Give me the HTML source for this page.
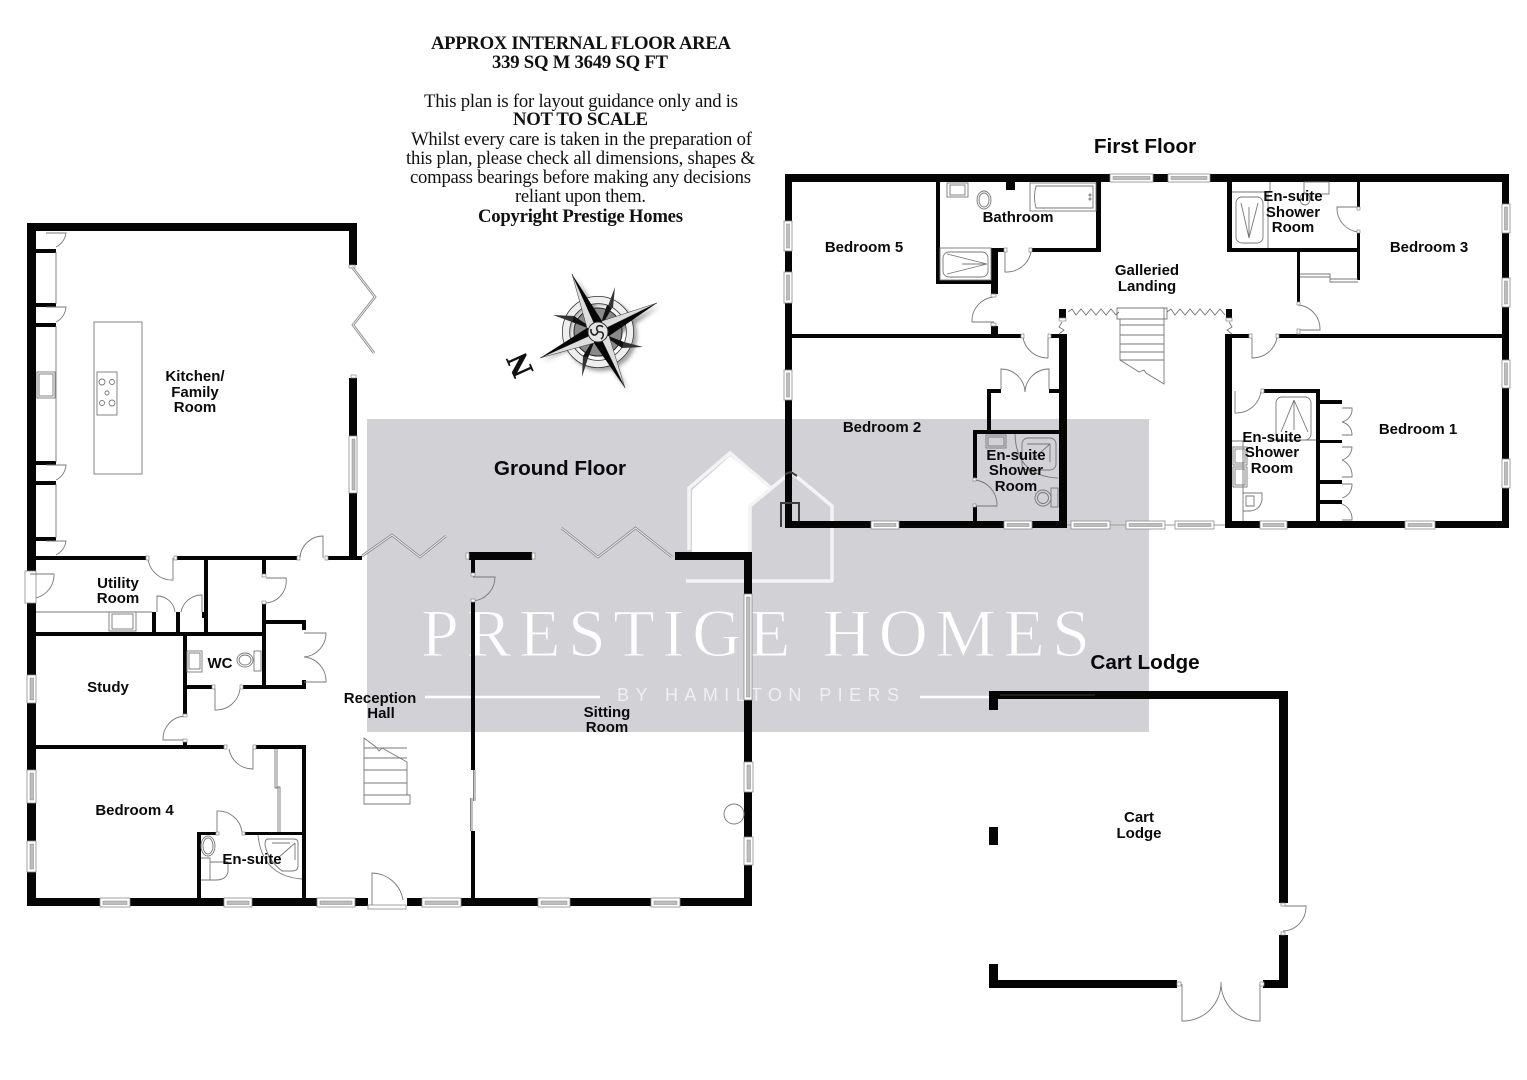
<!DOCTYPE html>
<html><head><meta charset="utf-8"><title>Floor plan</title>
<style>
html,body{margin:0;padding:0;background:#fff}
svg{display:block}
.l{font:bold 15px "Liberation Sans",sans-serif;fill:#0a0a0a;text-anchor:middle}
.h{font:bold 20.7px "Liberation Sans",sans-serif;fill:#0a0a0a;text-anchor:middle}
.s{font:18.7px "Liberation Serif",serif;fill:#111;text-anchor:middle}
.b{font-weight:bold}
.d{fill:none;stroke:#777;stroke-width:.9}
.f{fill:none;stroke:#999;stroke-width:.9}
.fd{fill:none;stroke:#888;stroke-width:2.6;stroke-linejoin:miter}
.fi{fill:none;stroke:#eee;stroke-width:1;stroke-linejoin:miter}
.w{fill:#fff;stroke:#8a8a8a;stroke-width:.8}
.wi{fill:#bdbdbd;stroke:#888;stroke-width:.5}
</style></head><body>
<svg width="1527" height="1080" viewBox="0 0 1527 1080" xmlns="http://www.w3.org/2000/svg">
<defs><filter id="bl" x="-30%" y="-30%" width="160%" height="160%"><feGaussianBlur stdDeviation="2.4"/></filter></defs>
<rect width="1527" height="1080" fill="#fff"/>

<!-- watermark -->
<rect x="367" y="419" width="782" height="313" fill="#d2d2d6"/>
<polygon points="730,456 771,488 750,506 750,552 692,552 692,490" fill="#fff"/>
<path d="M689,550V488L730,453L771,488M750,552V506L791,472L832,506V581M686,581H833" fill="none" stroke="#f4f4f5" stroke-width="3.5"/>
<text x="421" y="656" font-family="Liberation Serif,serif" font-size="68" fill="#fff" textLength="669" stroke="#d2d2d6" stroke-width="1.1">PRESTIGE HOMES</text>
<text x="617" y="701" font-family="Liberation Sans,sans-serif" font-size="18" fill="#f0f0f2" textLength="282">BY HAMILTON PIERS</text>
<path d="M425,697H600M920,697H1095" stroke="#fff" stroke-width="2.4"/>

<!-- heading text -->
<text class="s b" x="581" y="49" textLength="300">APPROX INTERNAL FLOOR AREA</text>
<text class="s b" x="580" y="68" textLength="176">339 SQ M 3649 SQ FT</text>
<text class="s" x="581" y="107" textLength="314">This plan is for layout guidance only and is</text>
<text class="s b" x="580.5" y="125" textLength="135">NOT TO SCALE</text>
<text class="s" x="581.5" y="145" textLength="341">Whilst every care is taken in the preparation of</text>
<text class="s" x="580.5" y="164" textLength="349">this plan, please check all dimensions, shapes &amp;</text>
<text class="s" x="580.5" y="183" textLength="341">compass bearings before making any decisions</text>
<text class="s" x="580.5" y="202" textLength="131">reliant upon them.</text>
<text class="s b" x="580.5" y="222" textLength="205">Copyright Prestige Homes</text>

<!-- compass -->
<g filter="url(#bl)" fill="#777" transform="translate(3,3)">
<polygon points="598,332 572,274 602,321"/><polygon points="598,332 657,303 609,336"/><polygon points="598,332 625,388 594,343"/><polygon points="598,332 540,358 587,328"/>
<circle cx="598" cy="332" r="33" fill="none" stroke="#888" stroke-width="5"/>
</g>
<circle cx="598" cy="332" r="32" fill="none" stroke="#333" stroke-width="8"/>
<circle cx="598" cy="332" r="32" fill="none" stroke="#eee" stroke-width="6.5"/>
<circle cx="598" cy="332" r="24" fill="#8a8a8a" stroke="#222"/>
<g fill="#333">
<polygon points="608,306 615,287 613,308"/><polygon points="624,342 643,347 622,348"/><polygon points="588,358 582,377 583,356"/><polygon points="572,322 553,315 574,316"/>
</g>
<g fill="#111">
<polygon points="598,332 607,305 612,308"/><polygon points="598,332 624,342 622,348"/><polygon points="598,332 588,358 583,356"/><polygon points="598,332 572,322 574,316"/>
</g>
<g fill="#ddd" stroke="#333" stroke-width=".5">
<polygon points="598,332 572,274 587,328"/><polygon points="598,332 657,303 602,321"/><polygon points="598,332 625,388 609,336"/><polygon points="598,332 540,358 594,343"/>
</g>
<g fill="#060606">
<polygon points="598,332 572,274 602,321"/><polygon points="598,332 657,303 609,336"/><polygon points="598,332 625,388 594,343"/><polygon points="598,332 540,358 587,328"/>
</g>
<circle cx="598" cy="332" r="10" fill="#e6e6e6" stroke="#333"/>
<path d="M598,332c-4,-6 2,-8 5,-5M598,332c7,-1 6,5 3,7M598,332c-3,6 -8,2 -7,-3" fill="none" stroke="#222" stroke-width="1.6"/>
<text transform="translate(520,365) rotate(-114)" x="0" y="10" font-family="Liberation Serif,serif" font-weight="bold" font-size="31" text-anchor="middle" fill="#111" stroke="#111" stroke-width=".5">N</text>

<!-- walls -->
<path fill="#050505" d="
M27,223H357V231H27Z M27,223H36V571H27Z M27,603H36V906H27Z M349,223H357V265H349Z M349,378H357V436H349Z M349,493H357V560H349Z
M36,249H56V253H36Z M36,303H56V307H36Z M36,323H56V327H36Z M36,461H56V465H36Z M36,481H56V485H36Z M36,537H56V541H36Z
M36,556H146V560H36Z M177,556H297V560H177Z M328,556H362V560H328Z
M36,632H264V636H36Z M152,612H156V632H152Z M176,612H180V632H176Z M202,612H205V618H202Z M204,560H208V632H204Z
M262,560H266V574H262Z M262,604H266V689H262Z M262,620H306V624H262Z M302,620H306V630H302Z M262,685H306V689H262Z M302,680H306V689H302Z
M183,636H187V714H183Z M187,685H212V689H187Z M243,685H306V689H243Z M183,742H187V746H183Z
M36,745H224V749H36Z M256,745H306V749H256Z M302,745H306V906H302Z M197,832H216V835H197Z M245,832H306V835H245Z M197,832H201V898H197Z
M27,898H100V906H27Z M130,898H224V906H130Z M252,898H317V906H252Z M355,898H368V906H355Z M407,898H422V906H407Z M461,898H538V906H461Z M570,898H651V906H570Z M680,898H752V906H680Z
M469,552H532V560H469Z M471,560H475V573H471Z M471,602H475V770H471Z M471,831H475V898H471Z
M675,552H752V560H675Z M744,552H752V594H744Z M744,700H752V762H744Z M744,792H752V837H744Z M744,865H752V906H744Z

M785,174H1110V182H785Z M1153,174H1168V182H1153Z M1210,174H1509V182H1210Z
M785,174H792V221H785Z M785,251H792V272H785Z M785,303H792V370H785Z M785,400H792V528H785Z
M1502,174H1509V204H1502Z M1502,233H1509V278H1502Z M1502,307H1509V360H1502Z M1502,388H1509V459H1502Z M1502,488H1509V528H1502Z
M785,521H871V528H785Z M899,521H1004V528H899Z M1032,521H1067V528H1032Z
M1225,521H1260V528H1225Z M1287,521H1405V528H1287Z M1435,521H1509V528H1435Z
M792,334H1021V338H792Z M1051,334H1067V338H1051Z M1225,334H1249V338H1225Z M1279,334H1502V338H1279Z
M1059,334H1067V528H1059Z M1225,334H1232V528H1225Z
M936,182H940V284H936Z M936,280H998V284H936Z M991,248H998V294H991Z M991,326H998V335H991Z M991,248H1004V252H991Z M1032,248H1101V252H1032Z M1096,182H1101V252H1096Z M1006,182H1015V190H1006Z
M1227,182H1232V252H1227Z M1227,248H1360V252H1227Z M1357,182H1360V207H1357Z M1357,232H1360V280H1357Z M1297,252H1300V302H1297Z
M987,389H1001V393H987Z M1049,389H1059V393H1049Z M987,389H991V430H987Z
M973,430H1059V434H973Z M973,430H977V478H973Z M973,506H977V521H973Z
M1264,389H1319V393H1264Z M1316,389H1320V521H1316Z
M1320,400H1342V404H1320Z M1320,440H1342V443H1320Z M1320,480H1342V484H1320Z M1320,500H1342V504H1320Z
M1059,309H1066V318H1059Z M1226,309H1232V318H1226Z

M989,691H1288V699H989Z M989,691H998V710H989Z M1279,691H1288V903H1279Z M1279,935H1288V988H1279Z M989,980H1177V988H989Z M1263,980H1288V988H1263Z M989,964H998V988H989Z M989,827H998V845H989Z"/>
<path d="M1000,695H1095" stroke="#3a3a3a" stroke-width="1"/>
<path d="M781,527V503H799V521M785,474L791,472 797,476" fill="none" stroke="#3d3d3d" stroke-width="2"/>

<!-- windows -->
<g class="win">
<rect class="w" x="100" y="898" width="30" height="9"/><rect class="wi" x="103" y="901" width="24" height="3.5"/>
<rect class="w" x="224" y="898" width="28" height="9"/><rect class="wi" x="227" y="901" width="22" height="3.5"/>
<rect class="w" x="317" y="898" width="38" height="9"/><rect class="wi" x="320" y="901" width="32" height="3.5"/>
<rect class="w" x="422" y="898" width="39" height="9"/><rect class="wi" x="425" y="901" width="33" height="3.5"/>
<rect class="w" x="538" y="898" width="32" height="9"/><rect class="wi" x="541" y="901" width="26" height="3.5"/>
<rect class="w" x="651" y="898" width="29" height="9"/><rect class="wi" x="654" y="901" width="23" height="3.5"/>
<rect class="w" x="27" y="675" width="9" height="28"/><rect class="wi" x="30" y="678" width="3.5" height="22"/>
<rect class="w" x="27" y="770" width="9" height="33"/><rect class="wi" x="30" y="773" width="3.5" height="27"/>
<rect class="w" x="27" y="841" width="9" height="31"/><rect class="wi" x="30" y="844" width="3.5" height="25"/>
<rect class="w" x="349" y="436" width="8" height="57"/><rect class="wi" x="352" y="439" width="3" height="51"/>
<rect class="w" x="744" y="594" width="8" height="106"/><rect class="wi" x="746.5" y="597" width="3.5" height="100"/>
<rect class="w" x="744" y="762" width="9" height="30"/><rect class="wi" x="747" y="765" width="3.5" height="24"/>
<rect class="w" x="744" y="837" width="9" height="28"/><rect class="wi" x="747" y="840" width="3.5" height="22"/>
<rect class="w" x="1110" y="174" width="43" height="8"/><rect class="wi" x="1113" y="176.5" width="37" height="3"/>
<rect class="w" x="1168" y="174" width="42" height="8"/><rect class="wi" x="1171" y="176.5" width="36" height="3"/>
<rect class="w" x="784" y="221" width="8" height="30"/><rect class="wi" x="786.5" y="224" width="3" height="24"/>
<rect class="w" x="784" y="272" width="8" height="31"/><rect class="wi" x="786.5" y="275" width="3" height="25"/>
<rect class="w" x="784" y="370" width="8" height="30"/><rect class="wi" x="786.5" y="373" width="3" height="24"/>
<rect class="w" x="1502" y="204" width="8" height="29"/><rect class="wi" x="1504.5" y="207" width="3" height="23"/>
<rect class="w" x="1502" y="278" width="8" height="29"/><rect class="wi" x="1504.5" y="281" width="3" height="23"/>
<rect class="w" x="1502" y="360" width="8" height="28"/><rect class="wi" x="1504.5" y="363" width="3" height="22"/>
<rect class="w" x="1502" y="459" width="8" height="29"/><rect class="wi" x="1504.5" y="462" width="3" height="23"/>
<rect class="w" x="871" y="521" width="28" height="8"/><rect class="wi" x="874" y="523.5" width="22" height="3"/>
<rect class="w" x="1004" y="521" width="28" height="8"/><rect class="wi" x="1007" y="523.5" width="22" height="3"/>
<rect class="w" x="1071" y="521" width="39" height="8"/><rect class="wi" x="1074" y="523.5" width="33" height="3"/>
<rect class="w" x="1126" y="521" width="39" height="8"/><rect class="wi" x="1129" y="523.5" width="33" height="3"/>
<rect class="w" x="1175" y="521" width="39" height="8"/><rect class="wi" x="1178" y="523.5" width="33" height="3"/>
<rect class="w" x="1260" y="521" width="27" height="8"/><rect class="wi" x="1263" y="523.5" width="21" height="3"/>
<rect class="w" x="1405" y="521" width="30" height="8"/><rect class="wi" x="1408" y="523.5" width="24" height="3"/>
<rect class="w" x="25" y="571" width="11" height="32"/>
</g>
<path class="f" d="M1067,525H1071M1110,525H1126M1165,525H1175M1214,525H1225"/>

<!-- doors -->
<path class="d" d="
M173,558V580A24,24 0 0 1 148,558
M323,558V536A23,23 0 0 0 300,558
M46,233H66A18,18 0 0 1 56,247 M46,307H66A18,18 0 0 1 56,322 M46,465H66A18,18 0 0 1 56,480 M46,541H66A18,18 0 0 1 56,555
M30,574H54A24,24 0 0 1 36,598
M157,612V596A18,18 0 0 1 175,612 M202,612V595A21,21 0 0 0 181,612
M266,578H286A22,22 0 0 1 266,603
M304,633H326A24,24 0 0 1 304,657 M304,682H326A24,24 0 0 0 304,657
M215,689V710A24,24 0 0 0 240,689
M185,740H163A23,23 0 0 1 185,716
M253,749V769A24,24 0 0 1 229,749
M217,832V811A24,24 0 0 1 242,832
M473,577H495A24,24 0 0 1 473,601
M1005,252V272A25,25 0 0 0 1031,252
M994,322H972A24,24 0 0 1 993,297
M1358,207H1337A24,24 0 0 0 1358,232
M1298,330H1320A24,24 0 0 0 1298,305
M1252,338V358A25,25 0 0 0 1277,338
M1048,338V358A25,25 0 0 1 1023,338
M1001,389V369A24,24 0 0 1 1025,392 M1049,389V369A24,24 0 0 0 1025,392
M975,506H997A25,25 0 0 0 975,480
M1235,391V413A25,25 0 0 0 1261,391
M1342,408H1352A13,13 0 0 1 1342,422 M1342,435H1352A13,13 0 0 0 1342,422
M1342,447H1352A14,14 0 0 1 1342,460 M1342,477H1352A17,17 0 0 0 1342,460
M1342,484H1352A14,14 0 0 1 1342,498 M1342,520H1352A16,16 0 0 0 1342,504
M1283,906H1306A24,24 0 0 1 1283,931
M1182,984V1021A38,38 0 0 0 1221,982 M1260,984V1021A38,38 0 0 1 1221,982
"/>
<path class="d" stroke-width="1.1" d="M372,905V873A32,32 0 0 1 403,900"/>
<rect class="w" x="368" y="905" width="38" height="4"/>

<!-- door jamb ticks -->
<g fill="#fff" stroke="#888" stroke-width=".7">
<rect x="146" y="556" width="3" height="4"/><rect x="174" y="556" width="3" height="4"/><rect x="297" y="556" width="3" height="4"/><rect x="325" y="556" width="3" height="4"/>
<rect x="262" y="574" width="4" height="3"/><rect x="262" y="601" width="4" height="3"/>
<rect x="212" y="685" width="3" height="4"/><rect x="240" y="685" width="3" height="4"/>
<rect x="183" y="714" width="4" height="3"/><rect x="183" y="739" width="4" height="3"/>
<rect x="224" y="745" width="3" height="4"/><rect x="253" y="745" width="3" height="4"/>
<rect x="216" y="832" width="3" height="3"/><rect x="242" y="832" width="3" height="3"/>
<rect x="471" y="573" width="4" height="3"/><rect x="471" y="599" width="4" height="3"/>
<rect x="1021" y="334" width="3" height="4"/><rect x="1048" y="334" width="3" height="4"/>
<rect x="1249" y="334" width="3" height="4"/><rect x="1276" y="334" width="3" height="4"/>
<rect x="1004" y="248" width="3" height="4"/><rect x="1029" y="248" width="3" height="4"/>
<rect x="991" y="294" width="5" height="3"/><rect x="991" y="323" width="5" height="3"/>
<rect x="1357" y="207" width="3" height="3"/><rect x="1357" y="230" width="3" height="3"/>
<rect x="1297" y="302" width="3" height="3"/><rect x="1297" y="329" width="3" height="5"/>
<rect x="973" y="478" width="3" height="3"/><rect x="973" y="504" width="3" height="3"/>
<rect x="1261" y="389" width="3" height="4"/>
<rect x="1281" y="903" width="4" height="3"/><rect x="1281" y="932" width="4" height="3"/>
<rect x="1177" y="982" width="4" height="4"/><rect x="1260" y="982" width="4" height="4"/>
<rect x="1059" y="318" width="7" height="3"/><rect x="1226" y="318" width="6" height="3"/>
<rect x="349" y="265" width="6" height="3"/><rect x="351" y="375" width="5" height="3"/>
<rect x="466" y="553" width="3" height="6"/><rect x="532" y="553" width="3" height="6"/>
</g>

<!-- folding doors -->
<polyline class="fd" points="352,267 375,297 353,325 374,353"/><polyline class="fi" points="352,267 375,297 353,325 374,353"/>
<polyline class="fd" points="362,556 392,535 420,557 446,536"/><polyline class="fi" points="362,556 392,535 420,557 446,536"/>
<polyline class="fd" points="561.5,528 598,557 635.5,528 672,557"/><polyline class="fi" points="561.5,528 598,557 635.5,528 672,557"/>

<!-- ground fittings -->
<g class="d">
<rect x="94" y="322" width="48" height="152"/>
<rect x="97" y="372" width="20" height="43"/>
<circle cx="102" cy="382" r="3"/><circle cx="112" cy="382" r="2.5"/><circle cx="107" cy="393" r="2"/><circle cx="102" cy="403" r="2.5"/><circle cx="112" cy="403" r="3"/>
<path d="M56,252V304M56,326V462M56,484V538"/>
<rect x="37" y="372" width="18" height="26"/><rect x="39" y="374" width="14" height="22"/>
<path d="M36,612H152"/>
<rect x="109" y="612" width="27" height="19"/><rect x="112" y="614" width="21" height="15"/>
<rect x="187" y="651" width="15" height="21"/><rect x="189" y="653" width="11" height="16"/>
<ellipse cx="245" cy="660" rx="8" ry="7"/><ellipse cx="245" cy="660" rx="6" ry="5"/><rect x="254" y="651" width="7" height="20"/>
<path d="M277,749V787H280V832M275,749V788H278V832"/>
<ellipse cx="208" cy="846" rx="7" ry="10"/><ellipse cx="208" cy="846" rx="5" ry="8"/>
<path d="M201,858H210V880H201M210,862H228V872Q226,880 216,880H210"/>
<path d="M258,835Q262,876 302,879"/>
<path d="M268,839H294Q298,839 298,843V866Q298,871 292,871H282Q268,860 265,845Q265,839 268,839ZM272,843H290M295,843V860M295,843L278,858"/>
<path d="M364,738V804H410V795H407V762L382,748 379,751 376,747ZM364,748H407M364,758H407M364,770H407M364,783H407M364,795H407"/>
<circle cx="734" cy="814" r="10"/>
<path d="M473.5,770V801M472,798V831"/>
<path d="M475,770V801M470.5,798V831"/>
</g>

<!-- first floor fittings -->
<g class="d">
<rect x="1030" y="183" width="66" height="28"/><path d="M1036,186H1093V208H1036Q1033,197 1036,186Z"/>
<circle cx="1090" cy="195" r="1"/><circle cx="1090" cy="199" r="1"/>
<rect x="947" y="183" width="21" height="14"/><rect x="950" y="185" width="15" height="10"/>
<ellipse cx="984" cy="200" rx="7" ry="9"/><ellipse cx="984" cy="200" rx="5" ry="7"/>
<rect x="940" y="248" width="51" height="32"/><rect x="943" y="252" width="45" height="25" rx="6"/><path d="M987,264L947,254M987,264L947,274M987,264L962,264"/>
<path d="M1232,192H1270M1270,182V192"/>
<rect x="1236" y="197" width="27" height="46" rx="6"/><path d="M1249,238L1241,203M1249,238L1258,203M1249,238V207"/>
<path d="M1268,192V248"/>
<rect x="1304" y="182" width="25" height="12"/>
<ellipse cx="1305" cy="199" rx="5" ry="6"/>
<path d="M1300,274H1330V279H1358M1300,277H1330V282H1358"/>
<path d="M1068,312l4,-3 4,6 5,-6 5,6 5,-6 5,6 5,-6 5,6 5,-6 5,6 3,-3"/>
<path d="M1167,312l4,-3 4,6 5,-6 5,6 5,-6 5,6 5,-6 5,6 5,-6 5,6 5,-6 5,6"/>
<path d="M1062,322l-3,5 5,3 -5,4M1229,322l3,5 -5,3 5,4"/>
<path d="M1117,308H1167V319H1117ZM1120,319V360L1139,372L1144,370L1146,373L1164,384V308M1120,325H1164M1120,335H1164M1120,344H1164M1120,352H1164M1120,360H1164"/>
<rect x="986" y="435" width="20" height="13"/><rect x="988" y="437" width="16" height="9"/>
<rect x="1022" y="438" width="34" height="32" rx="6"/><path d="M1027,444H1050V462M1050,444L1032,460"/>
<path d="M1015,434Q1016,476 1058,478"/>
<circle cx="1043" cy="498" r="8"/><circle cx="1043" cy="498" r="5.5"/><rect x="1051" y="488" width="7" height="19"/>
<rect x="1276" y="397" width="35" height="43" rx="6"/><path d="M1294,400L1281,432M1294,400L1308,432M1294,400V430M1270,440H1316"/>
<rect x="1233" y="447" width="14" height="18"/><rect x="1235" y="449" width="10" height="14"/>
<rect x="1233" y="467" width="14" height="20"/><rect x="1235" y="469" width="10" height="16"/>
<path d="M1232,441H1243V521"/>
<path d="M1243,493H1262V500Q1260,510 1250,511H1243M1246,496H1254V506H1246Z"/>
</g>

<!-- labels -->
<text class="h" x="560" y="475">Ground Floor</text>
<text class="h" x="1145" y="153">First Floor</text>
<text class="h" x="1145" y="669">Cart Lodge</text>
<text class="l" x="195" y="381">Kitchen/</text><text class="l" x="195" y="397">Family</text><text class="l" x="195" y="412">Room</text>
<text class="l" x="118" y="588">Utility</text><text class="l" x="118" y="603">Room</text>
<text class="l" x="108" y="692">Study</text>
<text class="l" x="220" y="668">WC</text>
<text class="l" x="380" y="703">Reception</text><text class="l" x="381" y="718">Hall</text>
<text class="l" x="134.5" y="815">Bedroom 4</text>
<text class="l" x="252" y="864">En-suite</text>
<text class="l" x="607" y="717">Sitting</text><text class="l" x="607" y="732">Room</text>
<text class="l" x="1139" y="822">Cart</text><text class="l" x="1139" y="838">Lodge</text>
<text class="l" x="864" y="252">Bedroom 5</text>
<text class="l" x="1018" y="222">Bathroom</text>
<text class="l" x="1147" y="275">Galleried</text><text class="l" x="1147" y="291">Landing</text>
<text class="l" x="1293" y="201">En-suite</text><text class="l" x="1293" y="217">Shower</text><text class="l" x="1293" y="232">Room</text>
<text class="l" x="1429" y="252">Bedroom 3</text>
<text class="l" x="882" y="432">Bedroom 2</text>
<text class="l" x="1016" y="460">En-suite</text><text class="l" x="1016" y="475">Shower</text><text class="l" x="1016" y="491">Room</text>
<text class="l" x="1272" y="442">En-suite</text><text class="l" x="1272" y="457">Shower</text><text class="l" x="1272" y="473">Room</text>
<text class="l" x="1418" y="434">Bedroom 1</text>
</svg>
</body></html>
